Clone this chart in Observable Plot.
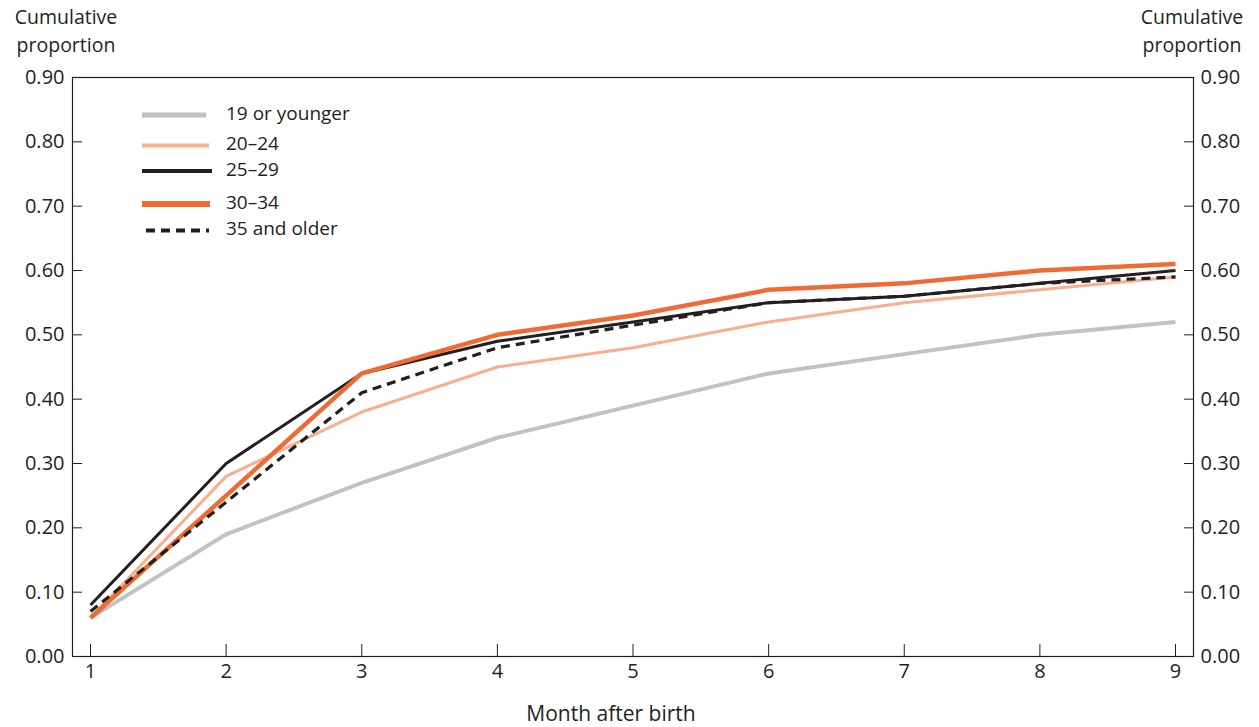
<!DOCTYPE html>
<html>
<head>
<meta charset="utf-8">
<script src="https://cdn.jsdelivr.net/npm/d3@7"></script>
<script src="https://cdn.jsdelivr.net/npm/@observablehq/plot@0.6"></script>
<style>
  html, body { margin: 0; padding: 0; background: #fff; }
  svg text { font-family: "Open Sans", sans-serif; }
</style>
</head>
<body>
<div id="chart"></div>
<script>
const months = [1, 2, 3, 4, 5, 6, 7, 8, 9];
const yTicks = [0, 0.1, 0.2, 0.3, 0.4, 0.5, 0.6, 0.7, 0.8, 0.9];

const seriesNames = ["19 or younger", "20–24", "25–29", "30–34", "35 and older"];
const age19orYounger = [0.06, 0.19, 0.27, 0.34, 0.39, 0.44, 0.47, 0.50, 0.52];
const age20to24      = [0.06, 0.28, 0.38, 0.45, 0.48, 0.52, 0.55, 0.57, 0.59];
const age25to29      = [0.08, 0.30, 0.44, 0.49, 0.52, 0.55, 0.56, 0.58, 0.60];
const age30to34      = [0.06, 0.25, 0.44, 0.50, 0.53, 0.57, 0.58, 0.60, 0.61];
const age35andOlder  = [0.07, 0.24, 0.41, 0.48, 0.515, 0.55, 0.56, 0.58, 0.59];

const seriesValues = [age19orYounger, age20to24, age25to29, age30to34, age35andOlder];
const seriesColors = ["#c1c2c6", "#f9ae8c", "#231f20", "#f26a33", "#231f20"];
const seriesWidths = [4, 3, 3, 4.5, 3.2];
const seriesDash   = [null, null, null, null, "9,6"];
const legendWidths = [5, 4, 4, 6, 4];

const ink = "#231f20";

const data = seriesNames.flatMap((name, i) =>
  months.map((m, j) => ({ series: name, month: m, value: seriesValues[i][j] }))
);

const lineMarks = seriesNames.map((name, i) =>
  Plot.line(data.filter(d => d.series === name), {
    x: "month", y: "value",
    stroke: seriesColors[i], strokeWidth: seriesWidths[i],
    strokeDasharray: seriesDash[i] || undefined,
    strokeLinejoin: "round", strokeLinecap: "butt"
  })
);

const fmt = d => d.toFixed(2);

const chart = Plot.plot({
  width: 1259,
  height: 727,
  marginTop: 77,
  marginBottom: 71,
  marginLeft: 72,
  marginRight: 66,
  style: { fontFamily: "Open Sans, sans-serif", fontSize: "20px", color: ink, background: "#fff" },
  x: { domain: [1, 9], insetLeft: 18, insetRight: 18 },
  y: { domain: [0, 0.9] },
  marks: [
    // inward ticks
    Plot.axisY({ anchor: "left", ticks: yTicks, tickSize: 10, dx: 10, tickFormat: () => "", label: null, stroke: ink }),
    Plot.axisY({ anchor: "right", ticks: yTicks, tickSize: 10, dx: -10, tickFormat: () => "", label: null, stroke: ink }),
    Plot.axisX({ anchor: "bottom", ticks: months, tickSize: 12, dy: -12, tickFormat: () => "", label: null, stroke: ink }),
    // tick labels
    Plot.axisY({ anchor: "left", ticks: yTicks, tickSize: 0, tickPadding: 8, tickFormat: fmt, label: null, fill: ink }),
    Plot.axisY({ anchor: "right", ticks: yTicks, tickSize: 0, tickPadding: 7, tickFormat: fmt, label: null, fill: ink }),
    Plot.axisX({ anchor: "bottom", ticks: months, tickSize: 0, tickPadding: 7, tickFormat: d => String(d), label: null, fill: ink }),
    Plot.frame({ stroke: ink, strokeWidth: 1.2 }),
    ...lineMarks
  ]
});

document.getElementById("chart").appendChild(chart);

const svg = d3.select(chart);

// Axis titles
const titleG = svg.append("g").attr("fill", ink).attr("font-size", 19.5).attr("text-anchor", "middle");
[66, 1192].forEach(cx => {
  titleG.append("text").attr("x", cx).attr("y", 24).text("Cumulative");
  titleG.append("text").attr("x", cx).attr("y", 52).text("proportion");
});
svg.append("text")
  .attr("x", 611).attr("y", 721)
  .attr("text-anchor", "middle").attr("fill", ink).attr("font-size", 21)
  .text("Month after birth");

// Legend
const legendY = [115, 145.5, 171, 204, 230.5];
const legendX1 = [142, 142, 142, 142, 146];
const legendX2 = [206, 209, 212, 210, 209];
const lg = svg.append("g").attr("text-anchor", "start");
seriesNames.forEach((name, i) => {
  lg.append("line")
    .attr("x1", legendX1[i]).attr("x2", legendX2[i])
    .attr("y1", legendY[i]).attr("y2", legendY[i])
    .attr("stroke", seriesColors[i]).attr("stroke-width", legendWidths[i])
    .attr("stroke-dasharray", seriesDash[i] || null);
  lg.append("text")
    .attr("x", 226).attr("y", legendY[i] - 2).attr("dy", "0.35em")
    .attr("text-anchor", "start")
    .attr("fill", ink).attr("font-size", 19)
    .text(name);
});
</script>
</body>
</html>
